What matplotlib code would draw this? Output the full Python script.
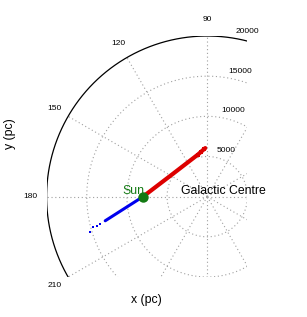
import numpy as np
import matplotlib
matplotlib.use("Agg")
import matplotlib.pyplot as plt

plt.rcParams['font.family'] = ['Liberation Sans', 'DejaVu Sans']

# ---- data (pc, Galactic Centre at origin) ----
sun_x, sun_y = -8000, 0
red_x = [-8000, -4200, -1150, -250]
red_y = [0, 2900, 5250, 6050]
red_jit_x = [-1150, -780, -420]
red_jit_y = [5150, 5520, 5880]
blue_x = [-8000, -12700]
blue_y = [0, -3000]
blue_dot_x = [-13330, -13740, -14200, -14600]
blue_dot_y = [-3400, -3700, -3830, -4360]
rings = [5000, 10000, 15000]
outer_r = 20000
spoke_angles = list(range(0, 360, 30))
angle_labels = [90, 120, 150, 180, 210]
radial_labels = [5000, 10000, 15000, 20000]

fig = plt.figure(figsize=(3.07, 3.17), dpi=100)
ax = fig.add_axes([46/307, 40/317, 202/307, 241/317])
ax.set_xlim(-20000, 5000)
ax.set_ylim(-10000, 20000)
ax.set_aspect('equal', adjustable='box')
ax.axis('off')

t = np.linspace(0, 2*np.pi, 721)
grid_kw = dict(color='#a0a0a0', lw=0.8, ls=(0, (1, 2.4)))
for r in rings:
    ax.plot(r*np.cos(t), r*np.sin(t), **grid_kw)
for a in spoke_angles:
    th = np.deg2rad(a)
    ax.plot([0, outer_r*np.cos(th)], [0, outer_r*np.sin(th)], **grid_kw)
ax.plot(outer_r*np.cos(t), outer_r*np.sin(t), color='black', lw=0.9)

# angle labels
for a in angle_labels:
    th = np.deg2rad(a)
    ax.text(22000*np.cos(th), 22000*np.sin(th), str(a), fontsize=6.0,
            ha='center', va='center', clip_on=False)
# radial labels
lab_th = np.deg2rad(80)
for r in radial_labels:
    ax.annotate(str(r), xy=(r*np.cos(lab_th), r*np.sin(lab_th)),
                xytext=(8.6, 5.0), textcoords='offset points',
                fontsize=6.0, ha='center', va='center', annotation_clip=False)

# data
ax.plot(red_x, red_y, color='#dd0000', lw=3.0, solid_capstyle='round')
ax.plot(red_jit_x, red_jit_y, 's', color='#dd0000', ms=2.4, mew=0)
ax.plot(blue_x, blue_y, color='#0000ee', lw=2.2, solid_capstyle='round')
ax.plot(blue_dot_x, blue_dot_y, 's', color='#0000ee', ms=2.0, mew=0)
ax.plot([sun_x], [sun_y], 'o', color='#137a13', ms=7.5, mew=0, zorder=5)

ax.text(-9170, 300, 'Sun', color='#137a13', fontsize=8.8, ha='center', va='baseline')
ax.text(2000, 300, 'Galactic Centre', color='black', fontsize=8.8, ha='center', va='baseline')

fig.text(146/307, 1 - 300/317, 'x (pc)', fontsize=8.8, ha='center', va='center')
fig.text(10/307, 1 - 134/317, 'y (pc)', fontsize=8.8, ha='center', va='center', rotation=90)

fig.savefig('out.png', dpi=100)
